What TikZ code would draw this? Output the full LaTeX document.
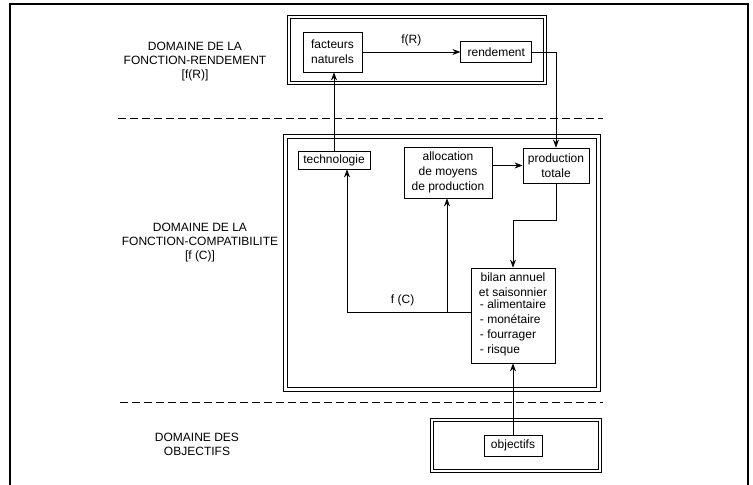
\documentclass[tikz,border=0pt]{standalone}
\usepackage{fontspec}
\setmainfont{Liberation Sans}
\usetikzlibrary{positioning,arrows.meta}

\begin{document}
\begin{tikzpicture}[x=0.75pt,y=-0.75pt,>={Stealth[length=6pt,width=4.5pt]},
  box/.style={draw,line width=0.6pt,inner sep=1pt,align=center,font=\fontsize{9}{11.25}\selectfont},
  domainbox/.style={draw,double,double distance=2pt,line width=0.8pt,inner sep=0pt},
  dlabel/.style={align=center,font=\fontsize{9}{10.5}\selectfont},
  link/.style={line width=0.6pt},
  sep/.style={dash pattern=on 6pt off 3pt,line width=0.6pt}]
  \useasboundingbox (0,0) rectangle (753,485);
  \draw[line width=1.2pt] (10,485) -- (10,4) -- (748,4) -- (748,485);

  % domains
  \node[domainbox,minimum width=192pt,minimum height=49.5pt] (dR) at (417,50) {};
  \node[domainbox,minimum width=234.75pt,minimum height=189.75pt] (dC) at (442,263) {};
  \node[domainbox,minimum width=126pt,minimum height=38.25pt] (dO) at (516,445.5) {};
  \coordinate (s1a) at (118,118); \coordinate (s1b) at (603,118);
  \coordinate (s2a) at (120,402); \coordinate (s2b) at (603,402);
  \draw[sep] (s1a) -- (s1b);
  \draw[sep] (s2a) -- (s2b);

  \node[dlabel] (lR) at (195,62) {DOMAINE DE LA\\FONCTION-RENDEMENT\\{}[f(R)]};
  \node[dlabel] (lC) at (200,243) {DOMAINE DE LA\\FONCTION-COMPATIBILITE\\{}[f (C)]};
  \node[dlabel] (lO) at (197,444) {DOMAINE DES\\OBJECTIFS};

  % boxes
  \node[box,minimum width=44.25pt,minimum height=30pt] (fn) at (332.5,52) {facteurs\\naturels};
  \node[box,minimum width=53.25pt,minimum height=15.75pt,right=73.5pt of fn] (rd) {rendement};
  \node[box,minimum width=54pt,minimum height=13.5pt] (tech) at (334,160) {technologie};
  \node[box,minimum width=66pt,minimum height=38.25pt] (alloc) at (448,172.5) {allocation\\de moyens\\de production};
  \node[box,minimum width=49.5pt,minimum height=26.25pt] (prod) at (556,165.5) {production\\totale};
  \node[box,minimum width=63pt,minimum height=71.25pt] (bilan) at (513,315.5) {bilan annuel\\et saisonnier\\
    \begin{tabular}{@{}l@{}}- alimentaire\\- monétaire\\- fourrager\\- risque\end{tabular}};
  \node[box,minimum width=43.5pt,minimum height=15.75pt] (obj) at (513,445.5) {objectifs};

  % links
  \path[->,link] (fn) edge node[above=1pt,font=\fontsize{9}{10}\selectfont] {f(R)} (rd);
  \draw[->,link] (rd.east) -| (prod.north);
  \draw[->,link] (tech.north) -- (tech.north |- fn.south);
  \draw[->,link] (alloc.east |- prod.west) -- (prod.west);
  \draw[->,link] (prod.south) -- ++(0,37) -| (bilan.north);
  \coordinate (fc) at (447,312);
  \coordinate (ft) at (347,312);
  \draw[->,link] (bilan.west |- fc) -- (ft) node[pos=0.55,above=1pt,font=\fontsize{9}{10}\selectfont] {f (C)} -- (ft |- tech.south);
  \draw[->,link] (fc) -- (fc |- alloc.south);
  \draw[->,link] (obj.north) -- (bilan.south);
\end{tikzpicture}
\end{document}
